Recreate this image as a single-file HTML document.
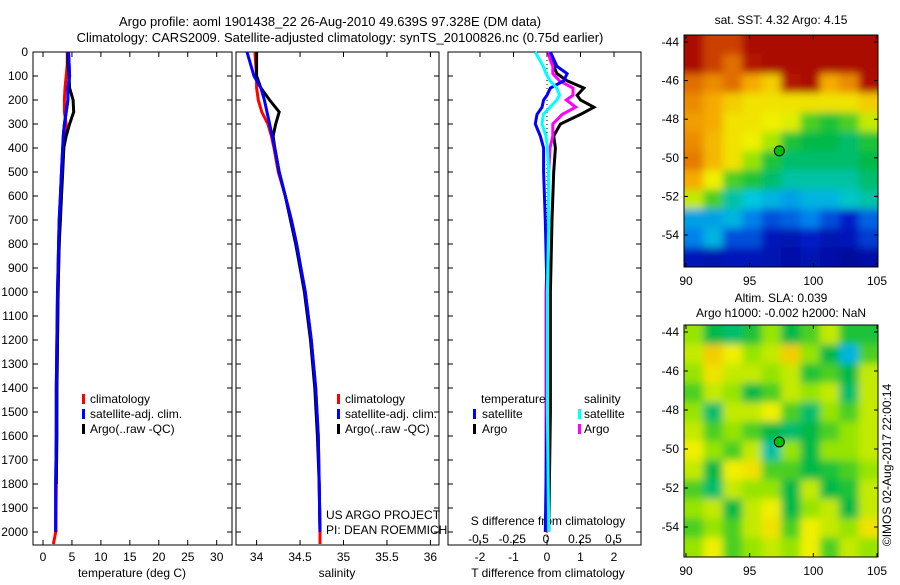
<!DOCTYPE html>
<html><head><meta charset="utf-8">
<style>
body{margin:0;background:#fff;}
svg text{font-family:"Liberation Sans",sans-serif;fill:#000;}
</style></head>
<body>
<svg id="fig" width="900" height="580" xmlns="http://www.w3.org/2000/svg">
<defs>
<filter id="blur1"><feGaussianBlur stdDeviation="4"/></filter>
<clipPath id="clip1"><rect x="684" y="35" width="194" height="232"/></clipPath>
<clipPath id="clip2"><rect x="684" y="325" width="194" height="232"/></clipPath>
</defs>
<text x="330" y="26" font-size="13" text-anchor="middle">Argo profile: aoml 1901438_22 26-Aug-2010 49.639S 97.328E (DM data)</text>
<text x="340" y="42" font-size="13" text-anchor="middle">Climatology: CARS2009. Satellite-adjusted climatology: synTS_20100826.nc (0.75d earlier)</text>
<g id="layer"></g>
</svg>
<script>
// ---- data ----
const depths = [0,50,100,150,200,250,300,350,400,500,600,700,800,900,1000,1200,1400,1600,1800,2000,2050];
const tempClim = [4.2,4.2,4.0,3.8,3.7,3.7,4.0,3.8,3.6,3.3,3.1,2.9,2.8,2.7,2.6,2.5,2.4,2.3,2.3,2.2,1.8];
const tempSat = [4.4,4.5,4.6,4.3,4.3,4.0,3.7,3.5,3.4,3.2,3.0,2.8,2.7,2.6,2.5,2.4,2.3,2.3,2.2,2.2];
const tempArgo = [4.3,4.3,4.5,4.6,5.2,5.3,4.6,4.0,3.6,3.4,3.2,3.0,2.8,2.7,2.6,2.5,2.4,2.4,2.3];
const salClim = [33.98,33.99,34.0,34.0,34.02,34.06,34.13,34.17,34.2,34.25,34.33,34.4,34.46,34.51,34.56,34.63,34.68,34.71,34.72,34.73,34.73];
const salSat = [33.89,33.93,33.97,34.05,34.09,34.12,34.15,34.18,34.21,34.26,34.33,34.4,34.46,34.51,34.56,34.63,34.68,34.71,34.72,34.73];
const salArgo = [34.0,34.0,34.0,34.05,34.15,34.26,34.22,34.19,34.21,34.26,34.33,34.39,34.45,34.5,34.55,34.62,34.67,34.7,34.72,34.73];
const diffDepths = [0,30,60,90,120,150,180,200,230,260,300,350,400,500,700,1000,1500,2000];
const dTsat = [0.1,0.2,0.3,0.6,0.5,0.1,0.0,-0.1,-0.15,-0.3,-0.35,-0.2,-0.1,-0.1,-0.05,0,0,-0.05];
const dTargo = [0.05,0.1,0.2,0.3,0.6,1.1,0.9,1.0,1.4,1.0,0.4,0.2,0.25,0.2,0.15,0.1,0.1,0.05];
const dSargo = [0.02,0.03,0.05,0.05,0.1,0.2,0.2,0.15,0.22,0.12,0.05,0.05,0.03,0.02,0.02,0.0,0.0,0.0];
const dSsat = [-0.08,-0.05,-0.02,0.0,0.03,0.08,0.1,0.08,0.03,-0.02,-0.03,0.0,0.01,0.02,0.02,0.01,0.01,0.02];
const depthTicks = [0,100,200,300,400,500,600,700,800,900,1000,1100,1200,1300,1400,1500,1600,1700,1800,1900,2000];
const tempTicks = [0,5,10,15,20,25,30];
const salTicks = [34,34.5,35,35.5,36];
const salTickLabels = ["34","34.5","35","35.5","36"];
const dTTicks = [-2,-1,0,1,2];
const dSTicks = [-0.5,-0.25,0,0.25,0.5];
const dSTickLabels = ["-0.5","-0.25","0","0.25","0.5"];
const lonTicks = [90,95,100,105];
const latTicks = [-44,-46,-48,-50,-52,-54];
const sstGrid = [
[0.95,0.85,0.85,0.95,0.95,0.95,0.95,0.95,0.95,0.95],
[0.95,0.85,0.8,0.9,0.95,0.95,0.95,0.95,0.95,0.95],
[0.8,0.75,0.8,0.7,0.65,0.9,0.95,0.7,0.75,0.92],
[0.75,0.7,0.65,0.62,0.62,0.62,0.62,0.62,0.62,0.65],
[0.72,0.7,0.62,0.62,0.6,0.58,0.45,0.42,0.45,0.55],
[0.75,0.68,0.62,0.6,0.52,0.42,0.4,0.4,0.38,0.42],
[0.78,0.68,0.62,0.5,0.42,0.38,0.38,0.38,0.38,0.4],
[0.7,0.6,0.45,0.42,0.38,0.35,0.35,0.35,0.35,0.38],
[0.55,0.45,0.35,0.32,0.3,0.28,0.3,0.3,0.33,0.35],
[0.28,0.28,0.3,0.25,0.2,0.22,0.25,0.2,0.15,0.22],
[0.25,0.3,0.2,0.2,0.12,0.1,0.15,0.1,0.12,0.18],
[0.12,0.1,0.12,0.12,0.1,0.08,0.1,0.08,0.05,0.08]];
const slaGrid = [
[0.5,0.4,0.38,0.42,0.5,0.4,0.45,0.55,0.42,0.42],
[0.55,0.65,0.6,0.5,0.55,0.65,0.5,0.4,0.3,0.45],
[0.5,0.62,0.55,0.55,0.5,0.55,0.42,0.45,0.4,0.55],
[0.45,0.55,0.5,0.4,0.45,0.55,0.5,0.55,0.38,0.55],
[0.5,0.38,0.55,0.55,0.6,0.45,0.38,0.5,0.45,0.55],
[0.55,0.45,0.5,0.45,0.4,0.38,0.4,0.45,0.5,0.55],
[0.6,0.5,0.45,0.55,0.35,0.5,0.4,0.5,0.5,0.55],
[0.55,0.4,0.6,0.62,0.45,0.45,0.4,0.42,0.45,0.5],
[0.45,0.38,0.55,0.5,0.5,0.4,0.55,0.4,0.42,0.55],
[0.5,0.55,0.4,0.55,0.6,0.4,0.5,0.55,0.4,0.55],
[0.45,0.5,0.45,0.55,0.62,0.45,0.6,0.55,0.5,0.62],
[0.5,0.6,0.45,0.5,0.55,0.5,0.6,0.45,0.55,0.5]];
const argoLon = 97.328, argoLat = -49.639;

// ---- helpers ----
const NS="http://www.w3.org/2000/svg";
const L=document.getElementById('layer');
function mk(tag,attrs,parent){const e=document.createElementNS(NS,tag);for(const k in attrs)e.setAttribute(k,attrs[k]);(parent||L).appendChild(e);return e;}
const yD = d => 52 + d*0.24;
const PTOP=52, PBOT=545;
const xT = v => 43 + v*5.79;
const xS = v => 256.6 + (v-34)*86.9;
const xDT = v => 547 + v*33.5;
const xDS = v => 546 + v*135;
const lonX = v => 686 + (v-90)*(191/15);
const latY1 = v => 42 + (-44 - v)*19.3;
const latY2 = v => 332 + (-44 - v)*19.5;

function panel(x0,x1,name){
  const r=mk('rect',{x:x0,y:PTOP,width:x1-x0,height:PBOT-PTOP,fill:'none',stroke:'#000','stroke-width':1});
  
  
  depthTicks.forEach(d=>{
    mk('line',{x1:x0,x2:x0+5,y1:yD(d),y2:yD(d),stroke:'#000'});
    mk('line',{x1:x1,x2:x1-5,y1:yD(d),y2:yD(d),stroke:'#000'});
  });
}
function xticks(ticks,labels,fx,ylab,name){
  ticks.forEach((t,i)=>{
    mk('line',{x1:fx(t),x2:fx(t),y1:PBOT,y2:PBOT-5,stroke:'#000'});
    mk('line',{x1:fx(t),x2:fx(t),y1:PTOP,y2:PTOP+5,stroke:'#000'});
    const tx=mk('text',{x:fx(t),y:ylab,'font-size':12,'text-anchor':'middle'});
    tx.textContent=labels[i];
    
    
  });
}
function line(vals,dep,fx,color,name){
  const pts=vals.map((v,i)=>fx(v).toFixed(1)+','+yD(dep[i]).toFixed(1)).join(' ');
  const p=mk('polyline',{points:pts,fill:'none',stroke:color,'stroke-width':3,'stroke-linejoin':'miter'});
  
  
}
function label(x,y,txt,size,anchor,name){
  const t=mk('text',{x:x,y:y,'font-size':size,'text-anchor':anchor||'start'});
  t.textContent=txt;
  
  
  return t;
}
function legendMark(x,y,color,name){
  const r=mk('rect',{x:x,y:y,width:3,height:10,fill:color});
  
  
}

depthTicks.forEach(d=>{
  const t=mk('text',{x:28,y:yD(d)+4,'font-size':12,'text-anchor':'end'});
  t.textContent=d;
  
  
});

// panel 1 temperature
panel(33,232,'temperature-panel');
xticks(tempTicks,tempTicks.map(String),xT,561,'temperature-tick-label');
label(132,577,'temperature (deg C)',12,'middle','temperature-axis-title');
line(tempClim,depths,xT,'#f00','temperature-climatology-line');
line(tempSat,depths,xT,'#00f','temperature-satellite-line');
line(tempArgo,depths,xT,'#000','temperature-argo-line');
line(tempSat,depths,xT,'#00f','temperature-satellite-line-top');
legendMark(82,394,'#f00','legend-climatology-marker');
label(90,403,'climatology',12,'start','legend-climatology');
legendMark(82,409,'#00f','legend-satellite-marker');
label(90,418,'satellite-adj. clim.',12,'start','legend-satellite');
legendMark(82,424,'#000','legend-argo-marker');
label(90,433,'Argo(..raw -QC)',12,'start','legend-argo');

// panel 2 salinity
panel(236,439,'salinity-panel');
xticks(salTicks,salTickLabels,xS,561,'salinity-tick-label');
label(337,577,'salinity',12,'middle','salinity-axis-title');
line(salClim,depths,xS,'#f00','salinity-climatology-line');
line(salArgo,depths,xS,'#000','salinity-argo-line');
line(salSat,depths,xS,'#00f','salinity-satellite-line');
legendMark(337,394,'#f00','legend2-climatology-marker');
label(345,403,'climatology',12,'start','legend2-climatology');
legendMark(337,409,'#00f','legend2-satellite-marker');
label(345,418,'satellite-adj. clim.',12,'start','legend2-satellite');
legendMark(337,424,'#000','legend2-argo-marker');
label(345,433,'Argo(..raw -QC)',12,'start','legend2-argo');
label(326,519,'US ARGO PROJECT',12,'start','project-label');
label(326,534,'PI: DEAN ROEMMICH',12,'start','pi-label');

// panel 3 differences
panel(448,641,'difference-panel');
mk('line',{x1:xDT(0),x2:xDT(0),y1:PTOP,y2:PBOT,stroke:'#000','stroke-dasharray':'1,3'});
xticks(dTTicks,dTTicks.map(String),xDT,561,'t-diff-tick-label');
dSTicks.forEach((t,i)=>{
  const tx=mk('text',{x:xDS(t),y:543,'font-size':12,'text-anchor':'middle'});
  tx.textContent=dSTickLabels[i];
  
  
});
label(548,525,'S difference from climatology',12,'middle','s-diff-axis-title');
label(548,577,'T difference from climatology',12,'middle','t-diff-axis-title');
line(dTargo,diffDepths,xDT,'#000','t-diff-argo-line');
line(dSargo,diffDepths,xDS,'#f0f','s-diff-argo-line');
line(dTsat,diffDepths,xDT,'#00f','t-diff-satellite-line');
line(dSsat,diffDepths,xDS,'#0ff','s-diff-satellite-line');
label(481,403,'temperature',12,'start','legend3-temperature-heading');
label(584,403,'salinity',12,'start','legend3-salinity-heading');
legendMark(473,409,'#00f','legend3-t-satellite-marker');
label(482,418,'satellite',12,'start','legend3-t-satellite');
legendMark(473,424,'#000','legend3-t-argo-marker');
label(482,433,'Argo',12,'start','legend3-t-argo');
legendMark(578,409,'#0ff','legend3-s-satellite-marker');
label(584,418,'satellite',12,'start','legend3-s-satellite');
legendMark(578,424,'#f0f','legend3-s-argo-marker');
label(584,433,'Argo',12,'start','legend3-s-argo');

// colormap (stops approximating the reference palette)
const cmStops=[[0,[0,0,130]],[0.15,[0,30,200]],[0.25,[0,130,235]],[0.32,[0,200,220]],[0.4,[0,185,70]],[0.5,[150,228,0]],[0.6,[240,240,0]],[0.7,[245,170,0]],[0.8,[225,110,0]],[0.9,[180,20,0]],[1,[160,0,0]]];
function cmap(v){
  v=Math.max(0,Math.min(1,v));
  for(let i=1;i<cmStops.length;i++){
    if(v<=cmStops[i][0]){
      const [a,ca]=cmStops[i-1],[b,cb]=cmStops[i];
      const f=(v-a)/(b-a);
      const c=ca.map((x,k)=>Math.round(x+(cb[k]-x)*f));
      return `rgb(${c[0]},${c[1]},${c[2]})`;
    }
  }
  return 'rgb(160,0,0)';
}
function heatmap(grid,y0,clip,name,cellName){
  const g=mk('g',{'clip-path':`url(#${clip})`});
  
  
  const inner=mk('g',{filter:'url(#blur1)'},g);
  const rows=grid.length, cols=grid[0].length;
  const w=194/cols, h=232/rows;
  grid.forEach((row,i)=>row.forEach((v,j)=>{
    const r=mk('rect',{x:(684+j*w-(j==0?10:0)).toFixed(1),y:(y0+i*h-(i==0?10:0)).toFixed(1),width:(w+1+(j==0||j==cols-1?10:0)).toFixed(1),height:(h+1+(i==0||i==rows-1?10:0)).toFixed(1),fill:cmap(v)},inner);
    
    
  }));
}
function mapAxes(y0,fy,name){
  const r=mk('rect',{x:684,y:y0,width:194,height:232,fill:'none',stroke:'#000'});
  
  
  lonTicks.forEach(t=>{
    mk('line',{x1:lonX(t),x2:lonX(t),y1:y0,y2:y0+4,stroke:'#000'});
    mk('line',{x1:lonX(t),x2:lonX(t),y1:y0+232,y2:y0+228,stroke:'#000'});
    label(lonX(t),y0+250,String(t),12,'middle','lon-tick-label');
  });
  latTicks.forEach(t=>{
    mk('line',{x1:684,x2:688,y1:fy(t),y2:fy(t),stroke:'#000'});
    mk('line',{x1:878,x2:874,y1:fy(t),y2:fy(t),stroke:'#000'});
    label(679,fy(t)+4,String(t),12,'end','lat-tick-label');
  });
}
heatmap(sstGrid,35,'clip1','sst-map','sst-cell');
mapAxes(35,latY1,'sst-map-frame');
let c1=mk('circle',{cx:lonX(argoLon),cy:latY1(argoLat),r:5,fill:'#00c000',stroke:'#000'});


label(781,24,'sat. SST: 4.32 Argo: 4.15',12,'middle','sst-map-title');

heatmap(slaGrid,325,'clip2','sla-map','sla-cell');
mapAxes(325,latY2,'sla-map-frame');
let c2=mk('circle',{cx:lonX(argoLon),cy:latY2(argoLat),r:5,fill:'#00c000',stroke:'#000'});


label(781,302,'Altim. SLA: 0.039',12,'middle','sla-map-title');
label(781,317,'Argo h1000: -0.002 h2000: NaN',12,'middle','sla-map-subtitle');

const cp=label(0,0,'©IMOS 02-Aug-2017 22:00:14',12,'middle','copyright-label');
cp.setAttribute('transform','translate(891,465) rotate(-90)');
</script>
</body></html>
